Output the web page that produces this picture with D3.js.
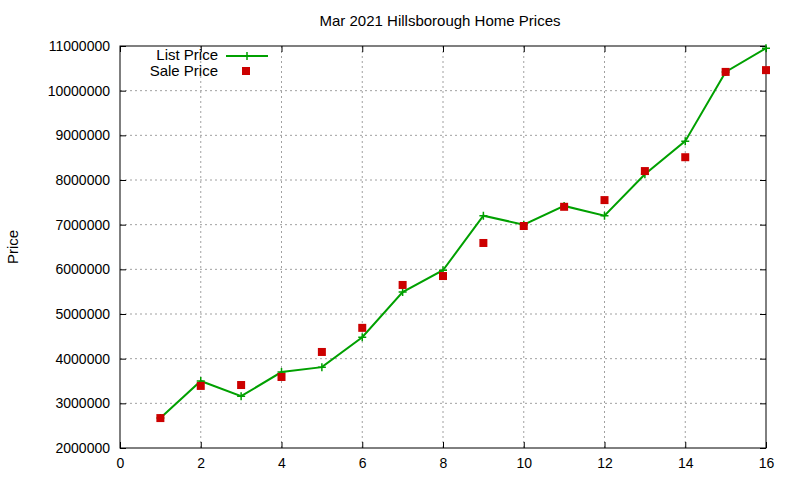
<!DOCTYPE html>
<html>
<head>
<meta charset="utf-8">
<script src="https://cdn.jsdelivr.net/npm/d3@7"></script>
<style>
  body { margin: 0; background: #fff; }
  svg { font-family: "Liberation Sans", Arial, sans-serif; }
</style>
</head>
<body>
<div id="chart"></div>
<script>
// data
const months = [1, 2, 3, 4, 5, 6, 7, 8, 9, 10, 11, 12, 13, 14, 15, 16];
const listPrice = [2670000, 3500000, 3160000, 3700000, 3810000, 4480000, 5490000, 5980000,
  7200000, 7000000, 7420000, 7200000, 8130000, 8870000, 10420000, 10950000];
const salePrice = [2670000, 3390000, 3410000, 3590000, 4150000, 4690000, 5650000, 5850000,
  6590000, 6970000, 7400000, 7550000, 8200000, 8510000, 10420000, 10460000];
const xTicks = [0, 2, 4, 6, 8, 10, 12, 14, 16];
const yTicks = [2000000, 3000000, 4000000, 5000000, 6000000, 7000000, 8000000, 9000000, 10000000, 11000000];

const margin = { top: 46, right: 34, bottom: 32, left: 120 },
  width = 800 - margin.left - margin.right,
  height = 480 - margin.top - margin.bottom;

const root = d3.select("#chart").append("svg")
  .attr("width", 800).attr("height", 480);
const svg = root.append("g")
  .attr("transform", `translate(${margin.left},${margin.top})`);

const x = d3.scaleLinear().domain([0, 16]).range([0, width]);
const y = d3.scaleLinear().domain([2000000, 11000000]).range([height, 0]);

// grid
svg.append("g").selectAll("line").data(xTicks.slice(1, -1)).join("line")
  .attr("x1", d => x(d)).attr("x2", d => x(d)).attr("y1", 0).attr("y2", height)
  .attr("stroke", "#a0a0a0").attr("stroke-dasharray", "2,3");
svg.append("g").selectAll("line").data(yTicks.slice(1, -1)).join("line")
  .attr("y1", d => y(d)).attr("y2", d => y(d)).attr("x1", 0).attr("x2", width)
  .attr("stroke", "#a0a0a0").attr("stroke-dasharray", "2,3");

// axes
const fmt = d3.format("d");
svg.append("g").attr("transform", `translate(0,${height})`)
  .call(d3.axisBottom(x).tickValues(xTicks).tickFormat(fmt).tickSizeInner(-6).tickSizeOuter(0).tickPadding(10));
svg.append("g").attr("transform", `translate(0,0)`)
  .call(d3.axisTop(x).tickValues(xTicks).tickFormat("").tickSizeInner(-6).tickSizeOuter(0));
svg.append("g")
  .call(d3.axisLeft(y).tickValues(yTicks).tickFormat(fmt).tickSizeInner(-6).tickSizeOuter(0).tickPadding(10));
svg.append("g").attr("transform", `translate(${width},0)`)
  .call(d3.axisRight(y).tickValues(yTicks).tickFormat("").tickSizeInner(-6).tickSizeOuter(0));
svg.selectAll(".domain").remove();
svg.selectAll(".tick text").style("font-size", "14px").attr("fill", "#000");
svg.append("rect").attr("width", width).attr("height", height)
  .attr("fill", "none").attr("stroke", "#000");

// list price line
svg.append("path").datum(months)
  .attr("fill", "none").attr("stroke", "#00a000").attr("stroke-width", 2)
  .attr("d", d3.line().x(d => x(d)).y((d, i) => y(listPrice[i])));
const plus = d3.symbol().type(d3.symbolCross);
svg.append("g").selectAll("path").data(months).join("path")
  .attr("transform", (d, i) => `translate(${x(d)},${y(listPrice[i])})`)
  .attr("d", "M-4,0H4M0,-4V4").attr("stroke", "#00a000").attr("stroke-width", 1.5);

// sale price points
svg.append("g").selectAll("rect").data(months).join("rect")
  .attr("x", d => x(d) - 4).attr("y", (d, i) => y(salePrice[i]) - 4)
  .attr("width", 8).attr("height", 8).attr("fill", "#cc0000");

// legend
const lg = svg.append("g").attr("transform", "translate(0,0)");
lg.append("text").attr("x", 98).attr("y", 14).attr("text-anchor", "end")
  .style("font-size", "15px").text("List Price");
lg.append("line").attr("x1", 106).attr("x2", 148).attr("y1", 10).attr("y2", 10)
  .attr("stroke", "#00a000").attr("stroke-width", 2);
lg.append("path").attr("transform", "translate(127,10)").attr("d", "M-4,0H4M0,-4V4")
  .attr("stroke", "#00a000").attr("stroke-width", 1.5);
lg.append("text").attr("x", 98).attr("y", 30).attr("text-anchor", "end")
  .style("font-size", "15px").text("Sale Price");
lg.append("rect").attr("x", 122).attr("y", 21).attr("width", 8).attr("height", 8).attr("fill", "#cc0000");

// title and axis label
root.append("text").attr("x", 440).attr("y", 26).attr("text-anchor", "middle")
  .style("font-size", "15px").text("Mar 2021 Hillsborough Home Prices");
root.append("text").attr("transform", "translate(18,247) rotate(-90)")
  .attr("text-anchor", "middle").style("font-size", "15px").text("Price");
</script>
</body>
</html>
